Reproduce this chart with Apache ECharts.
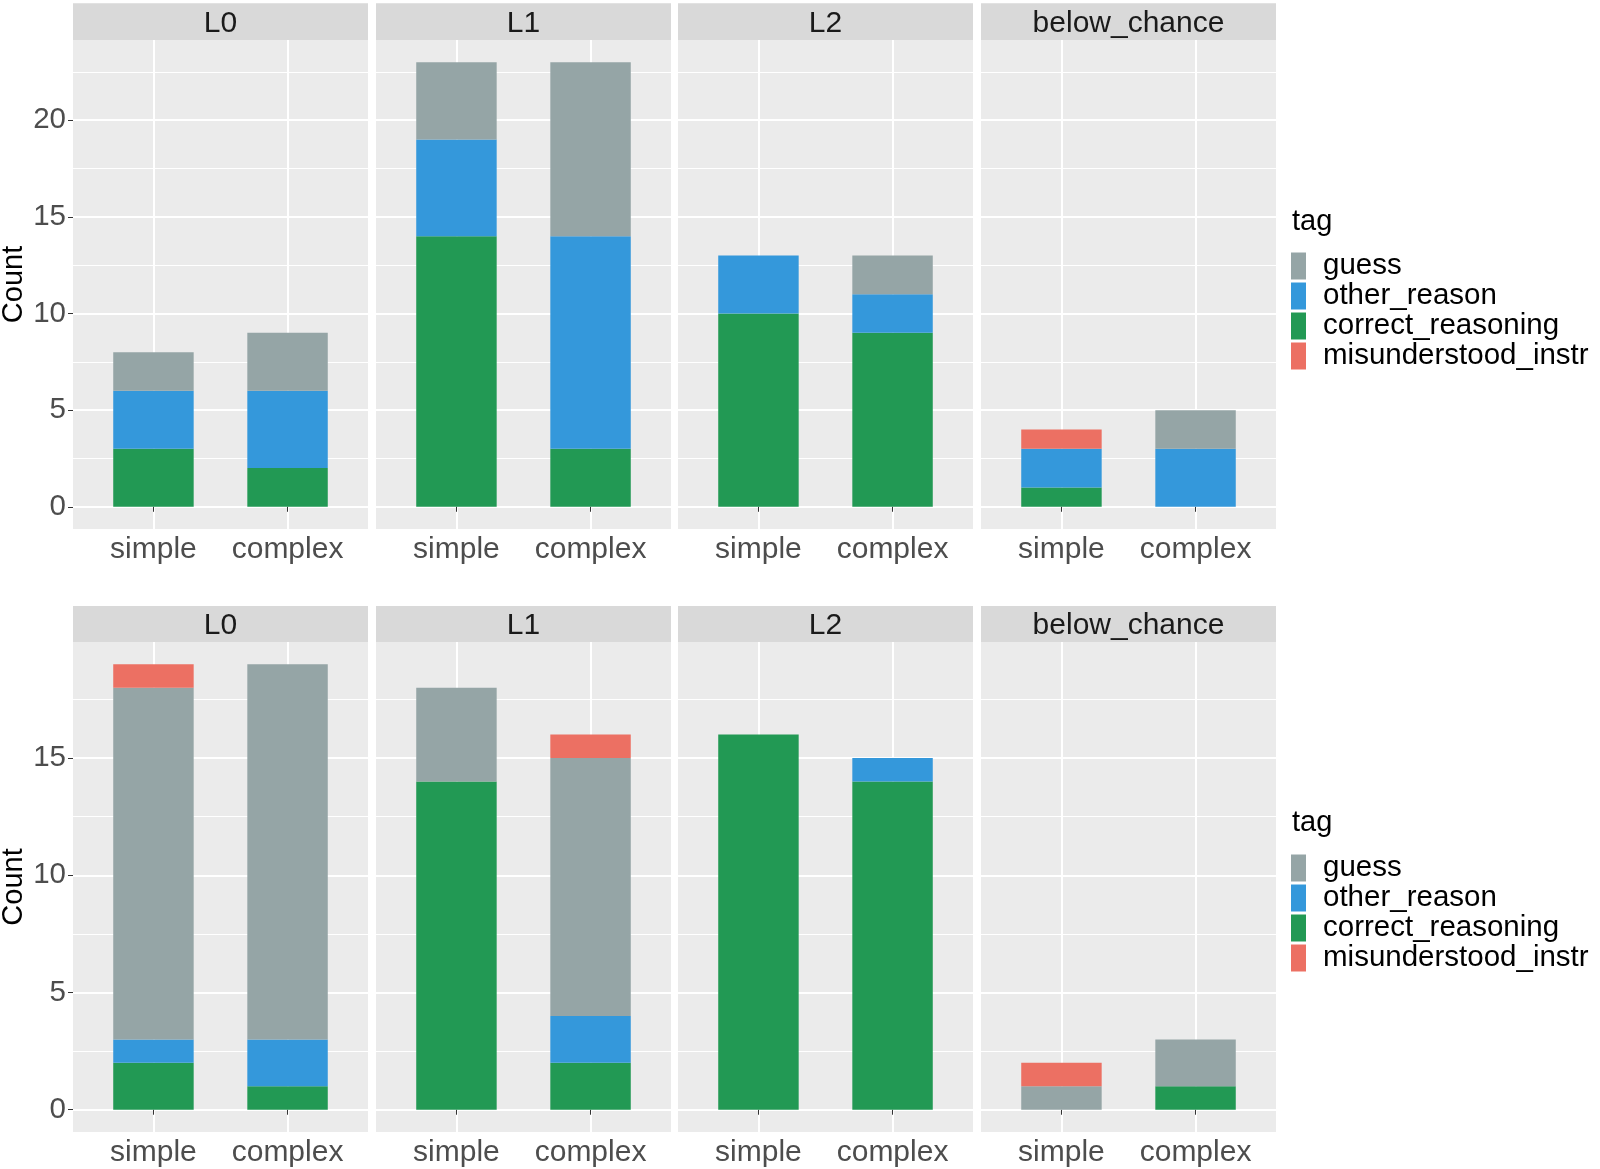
<!DOCTYPE html>
<html>
<head>
<meta charset="utf-8">
<script src="https://cdn.jsdelivr.net/npm/echarts@6/dist/echarts.min.js"></script>
<style>html,body{margin:0;padding:0;background:#fff;}#c{width:1600px;height:1169px;}</style>
</head>
<body>
<div id="c"></div>
<script>
// ---- data ----
const categories = ['simple', 'complex'];
const facets = ['L0', 'L1', 'L2', 'below_chance'];
const tags = ['correct_reasoning', 'other_reason', 'guess', 'misunderstood_instr']; // stacking order, bottom first
const legendOrder = ['guess', 'other_reason', 'correct_reasoning', 'misunderstood_instr'];
const yTicks = [0, 5, 10, 15, 20];

// top row, per facet [simple, complex]
const row1_correct = [[3, 2], [14, 3], [10, 9], [1, 0]];
const row1_other   = [[3, 4], [5, 11], [3, 2], [2, 3]];
const row1_guess   = [[2, 3], [4, 9], [0, 2], [0, 2]];
const row1_misund  = [[0, 0], [0, 0], [0, 0], [1, 0]];
// bottom row
const row2_correct = [[2, 1], [14, 2], [16, 14], [0, 1]];
const row2_other   = [[1, 2], [0, 2], [0, 1], [0, 0]];
const row2_guess   = [[15, 16], [4, 11], [0, 0], [1, 2]];
const row2_misund  = [[1, 0], [0, 1], [0, 0], [1, 0]];

const rowsData = [
  {correct_reasoning: row1_correct, other_reason: row1_other, guess: row1_guess, misunderstood_instr: row1_misund},
  {correct_reasoning: row2_correct, other_reason: row2_other, guess: row2_guess, misunderstood_instr: row2_misund}
];

const colors = {
  guess: '#95A5A6',
  other_reason: '#3498DB',
  correct_reasoning: '#229954',
  misunderstood_instr: '#EC7063'
};

// ---- layout ----
const FONT = 'Liberation Sans, Arial, Helvetica, sans-serif';
const panelLeft = [73, 376, 678, 981];
const panelW = 295;
const rows = [
  {top: 40, h: 489, stripTop: 3.3, legendTop: 251, tagY: 222},
  {top: 642, h: 490, stripTop: 606, legendTop: 853, tagY: 823}
];
const barWidth = 0.6 * panelW / 2.2;

const grids = [], xAxes = [], yAxes = [], series = [], graphics = [], legends = [];

rows.forEach((row, r) => {
  const rd = rowsData[r];
  // max stacked total for ggplot-like 5% expansion
  let maxTot = 0;
  facets.forEach((f, c) => categories.forEach((_, k) => {
    const s = tags.reduce((a, t) => a + rd[t][c][k], 0);
    if (s > maxTot) maxTot = s;
  }));
  const ymin = -0.05 * maxTot, ymax = maxTot * 1.05;

  facets.forEach((f, c) => {
    const idx = r * 4 + c;
    grids.push({
      left: panelLeft[c], top: row.top, width: panelW, height: row.h,
      show: true, backgroundColor: '#EBEBEB', borderWidth: 0, containLabel: false
    });
    xAxes.push({
      type: 'value', gridIndex: idx, min: 0.4, max: 2.6,
      splitNumber: 2, minInterval: 1, maxInterval: 1,
      axisLine: {show: false},
      axisTick: {show: true, length: 5, customValues: [1, 2], lineStyle: {color: '#333333', width: 1}},
      axisLabel: {
        show: true, margin: 6, customValues: [1, 2],
        fontSize: 30, lineHeight: 30, color: '#4D4D4D', fontFamily: FONT,
        formatter: v => (Math.abs(v - Math.round(v)) < 1e-6 && v >= 1 && v <= 2) ? categories[Math.round(v) - 1] : ''
      },
      splitLine: {show: true, lineStyle: {color: '#FFFFFF', width: 2}}
    });
    yAxes.push({
      type: 'value', gridIndex: idx, min: ymin, max: ymax,
      splitNumber: 5, minInterval: 5, maxInterval: 5,
      axisLine: {show: false},
      axisTick: {show: c === 0, length: 5, customValues: yTicks, lineStyle: {color: '#333333', width: 1}},
      axisLabel: {
        show: c === 0, margin: 7, customValues: yTicks,
        fontSize: 29.5, color: '#4D4D4D', fontFamily: FONT,
        formatter: v => (Math.abs(v % 5) < 1e-6) ? String(Math.round(v)) : ''
      },
      splitLine: {show: true, lineStyle: {color: '#FFFFFF', width: 2}},
      minorTick: {show: false, splitNumber: 2},
      minorSplitLine: {show: true, lineStyle: {color: '#FFFFFF', width: 1}}
    });
    tags.forEach(t => {
      series.push({
        type: 'bar', name: t, xAxisIndex: idx, yAxisIndex: idx,
        stack: 'st' + idx, barWidth: barWidth,
        // value column first so the stack is computed on the y (count) dimension
        encode: {x: 1, y: 0},
        itemStyle: {color: colors[t]},
        emphasis: {disabled: true},
        data: categories.map((cat, k) => [rd[t][c][k], k + 1])
      });
    });
    // strip
    graphics.push({
      type: 'rect', silent: true,
      shape: {x: panelLeft[c], y: row.stripTop, width: panelW, height: row.top - row.stripTop},
      style: {fill: '#D9D9D9'}
    });
    graphics.push({
      type: 'text', silent: true,
      x: panelLeft[c] + panelW / 2, y: (row.stripTop + row.top) / 2 + 2,
      style: {text: f, fill: '#1A1A1A', font: '30px ' + FONT, align: 'center', verticalAlign: 'middle'}
    });
  });

  // y-axis title
  graphics.push({
    type: 'text', silent: true,
    x: 14, y: row.top + row.h / 2, rotation: Math.PI / 2,
    style: {text: 'Count', fill: '#000000', font: '29px ' + FONT, align: 'center', verticalAlign: 'middle'}
  });
  // legend title
  graphics.push({
    type: 'text', silent: true,
    x: 1292, y: row.tagY,
    style: {text: 'tag', fill: '#000000', font: '29px ' + FONT, align: 'left', verticalAlign: 'middle'}
  });
  legends.push({
    orient: 'vertical', left: 1291, top: row.legendTop, padding: 0,
    itemWidth: 15, itemHeight: 27, itemGap: 0, icon: 'rect',
    selectedMode: false,
    data: legendOrder,
    textStyle: {fontSize: 29.5, lineHeight: 27, color: '#000000', fontFamily: FONT, padding: [0, 0, 0, 12]}
  });
});

const chart = echarts.init(document.getElementById('c'), null, {renderer: 'canvas'});
chart.setOption({
  animation: false,
  backgroundColor: '#FFFFFF',
  grid: grids,
  xAxis: xAxes,
  yAxis: yAxes,
  legend: legends,
  series: series,
  graphic: graphics
});
</script>
</body>
</html>
